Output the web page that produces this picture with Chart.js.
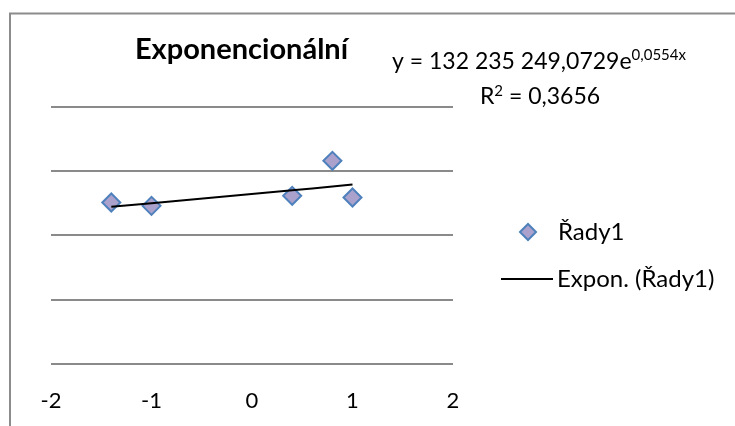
<!DOCTYPE html>
<html>
<head>
<meta charset="utf-8">
<script src="https://cdn.jsdelivr.net/npm/chart.js@4"></script>
<style>
  html, body { margin: 0; padding: 0; background: #ffffff; }
  #wrap { width: 735px; height: 426px; }
</style>
</head>
<body>
<div id="wrap"><canvas id="chart" width="735" height="426"></canvas></div>
<script>
// Series "Řady1"
const xValues = [-1.4, -1, 0.4, 0.8, 1];
const yValues = [125.7e6, 123.1e6, 130.9e6, 158.2e6, 129.6e6];

// Exponential trendline y = a·e^(b·x), as stated in the label
const trendA = 132235249.0729;
const trendB = 0.0554;
const trendR2 = 0.3656;

// Axis ticks
const xTicks = [-2, -1, 0, 1, 2];
const yMin = 0, yMax = 250e6, yStep = 50e6;

const seriesName = 'Řady1';
const trendName = 'Expon. (Řady1)';
const chartTitle = 'Exponencionální';

const FONT = 'Lato, "Open Sans", sans-serif';
const GRID = '#8a8a8a';
const MARK_FILL = '#aaa2cc';
const MARK_EDGE = '#4f81bd';

const pointsData = xValues.map((x, i) => ({ x: x, y: yValues[i] }));
const trendData = xValues.map(x => ({ x: x, y: trendA * Math.exp(trendB * x) }));

function fmt(n, dec) {
  return n.toFixed(dec).replace('.', ',');
}
function fmtBig(n, dec) {
  const [ip, fp] = n.toFixed(dec).split('.');
  return ip.replace(/\B(?=(\d{3})+(?!\d))/g, ' ') + ',' + fp;
}

// Draws a run of [text, fontSize, rise] pieces centred on cx
function drawRuns(c, runs, cx, baseline) {
  let total = 0;
  runs.forEach(r => { c.font = r[1] + 'px ' + FONT; total += c.measureText(r[0]).width; });
  let x = cx - total / 2;
  c.textAlign = 'left';
  runs.forEach(r => {
    c.font = r[1] + 'px ' + FONT;
    c.fillText(r[0], x, baseline - r[2]);
    x += c.measureText(r[0]).width;
  });
}

// Outer frame, title, trendline label and legend
const decor = {
  id: 'decor',
  beforeDraw(chart) {
    const c = chart.ctx;
    c.save();
    c.fillStyle = '#ffffff';
    c.fillRect(0, 0, chart.width, chart.height);
    c.strokeStyle = '#8c8c8c';
    c.lineWidth = 2;
    c.beginPath();
    c.moveTo(10, chart.height);
    c.lineTo(10, 13.5);
    c.lineTo(chart.width, 13.5);
    c.stroke();
    c.restore();
  },
  afterDraw(chart) {
    const c = chart.ctx;
    c.save();
    c.fillStyle = '#000000';
    c.textBaseline = 'alphabetic';

    // title
    c.font = 'bold 29px ' + FONT;
    c.textAlign = 'center';
    c.fillText(chartTitle, 241.5, 59);

    // trendline equation and R²
    drawRuns(c, [['y = ' + fmtBig(trendA, 4) + 'e', 23, 0], [fmt(trendB, 4) + 'x', 15, 9]], 539, 69);
    drawRuns(c, [['R', 23, 0], ['2', 15, 8], [' = ' + fmt(trendR2, 4), 23, 0]], 540, 104);

    // legend
    c.textAlign = 'left';
    const dx = 528, dy = 232, r = 8;
    c.beginPath();
    c.moveTo(dx - r, dy);
    c.lineTo(dx, dy - r);
    c.lineTo(dx + r, dy);
    c.lineTo(dx, dy + r);
    c.closePath();
    c.fillStyle = MARK_FILL;
    c.fill();
    c.strokeStyle = MARK_EDGE;
    c.lineWidth = 2;
    c.stroke();
    c.fillStyle = '#000000';
    c.font = '24px ' + FONT;
    c.fillText(seriesName, 558, 240);

    c.strokeStyle = '#000000';
    c.lineWidth = 2;
    c.beginPath();
    c.moveTo(501, 279);
    c.lineTo(553, 279);
    c.stroke();
    c.fillText(trendName, 557, 287);
    c.restore();
  }
};

new Chart(document.getElementById('chart'), {
  type: 'scatter',
  data: {
    datasets: [
      {
        label: trendName,
        type: 'line',
        data: trendData,
        borderColor: '#000000',
        borderWidth: 2,
        pointRadius: 0,
        tension: 0.4,
        fill: false,
        order: 0
      },
      {
        label: seriesName,
        data: pointsData,
        pointStyle: 'rectRot',
        pointRadius: 9,
        pointBackgroundColor: MARK_FILL,
        pointBorderColor: MARK_EDGE,
        pointBorderWidth: 2,
        showLine: false,
        order: 1
      }
    ]
  },
  options: {
    responsive: false,
    animation: false,
    devicePixelRatio: 1,
    layout: { padding: { left: 51, right: 282, top: 43, bottom: -12 } },
    plugins: {
      legend: { display: false },
      title: { display: false },
      tooltip: { enabled: false }
    },
    scales: {
      x: {
        type: 'linear',
        min: xTicks[0],
        max: xTicks[xTicks.length - 1],
        afterBuildTicks(scale) { scale.ticks = xTicks.map(v => ({ value: v })); },
        grid: { display: false, drawTicks: false },
        border: { display: false },
        ticks: {
          color: '#000000',
          font: { family: FONT, size: 22, lineHeight: 1.1 },
          padding: 25,
          maxRotation: 0,
          callback: v => String(v)
        }
      },
      y: {
        type: 'linear',
        min: yMin,
        max: yMax,
        ticks: { display: false, stepSize: yStep },
        grid: {
          drawTicks: false,
          lineWidth: 2,
          color: ctx => (ctx.tick && ctx.tick.value === yMax) ? 'rgba(0,0,0,0)' : GRID
        },
        border: { display: false }
      }
    }
  },
  plugins: [decor]
});
</script>
</body>
</html>
